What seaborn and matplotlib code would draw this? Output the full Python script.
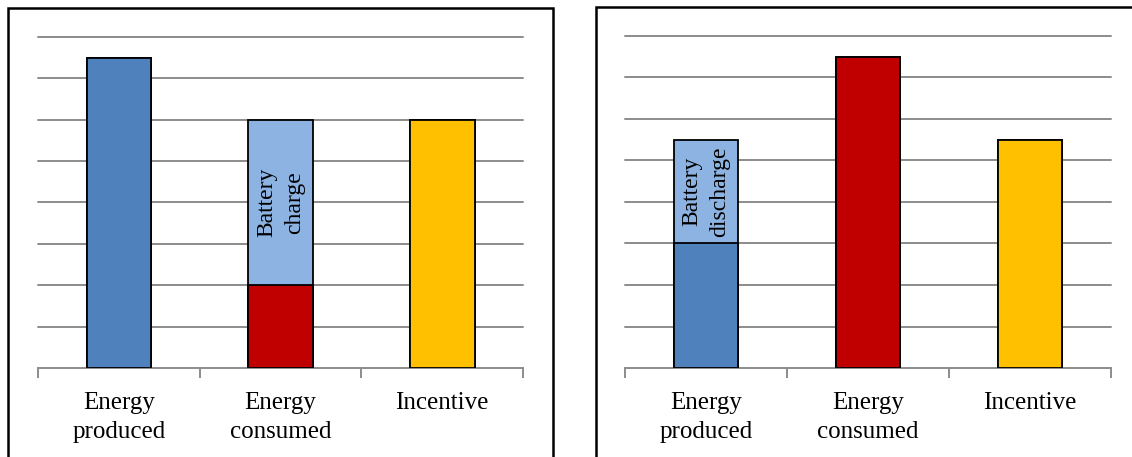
import matplotlib
matplotlib.use("Agg")
import matplotlib.pyplot as plt
from matplotlib.patches import Rectangle
import seaborn as sns
import numpy as np

sns.set_theme(style="white")
plt.rcParams["font.family"] = ["Liberation Serif", "DejaVu Serif"]
plt.rcParams["text.color"] = "black"
plt.rcParams["xtick.color"] = "black"

categories = ["Energy\nproduced", "Energy\nconsumed", "Incentive"]

# Left scenario: surplus energy goes to battery charging
left_base = [7.5, 2.0, 6.0]
left_battery = [0.0, 4.0, 0.0]
left_battery_label = "Battery\ncharge"

# Right scenario: battery discharge covers the deficit
right_base = [3.0, 7.5, 5.5]
right_battery = [2.5, 0.0, 0.0]
right_battery_label = "Battery\ndischarge"

base_colors = ["#4F81BD", "#C00000", "#FFC000"]
battery_color = "#8DB3E2"
grid_color = "#8C8C8C"

W, H = 1132, 457
fig = plt.figure(figsize=(W / 100, H / 100), dpi=100)


def px_axes(x0, x1, ytop, ybot):
    return fig.add_axes([x0 / W, (H - ybot) / H, (x1 - x0) / W, (ybot - ytop) / H])


def draw_panel(ax, base, battery, label):
    base = np.array(base)
    battery = np.array(battery)
    totals = base + battery
    top_colors = [battery_color if b > 0 else c for b, c in zip(battery, base_colors)]
    for y in range(1, 9):
        ax.axhline(y, color=grid_color, lw=1.4, zorder=0, clip_on=False)
    sns.barplot(x=categories, y=totals, hue=categories, palette=top_colors,
                legend=False, width=0.4, edgecolor="black", linewidth=1.3,
                saturation=1, ax=ax, zorder=2)
    sns.barplot(x=categories, y=base, hue=categories, palette=base_colors,
                legend=False, width=0.4, edgecolor="black", linewidth=1.3,
                saturation=1, ax=ax, zorder=3)
    for i, b in enumerate(battery):
        if b > 0:
            ax.text(i, base[i] + b / 2, label, rotation=90, ha="center",
                    va="center", fontsize=17, linespacing=1.45, color="black",
                    zorder=4)
    ax.set_xlim(-0.5, 2.5)
    ax.set_ylim(0, 8)
    ax.set_yticks([])
    ax.set_ylabel("")
    ax.set_xticks([0, 1, 2])
    ax.set_xticklabels(categories, fontsize=18, linespacing=1.45, color="black")
    ax.set_xticks([-0.5, 0.5, 1.5, 2.5], minor=True)
    ax.tick_params(axis="x", which="major", length=0, pad=17)
    ax.tick_params(axis="x", which="minor", length=7, width=1.4, color=grid_color,
                   direction="out", bottom=True)
    for s in ["top", "left", "right"]:
        ax.spines[s].set_visible(False)
    ax.spines["bottom"].set_color(grid_color)
    ax.spines["bottom"].set_linewidth(1.4)
    ax.patch.set_alpha(0)


ax1 = px_axes(38, 523, 37, 368)
draw_panel(ax1, left_base, left_battery, left_battery_label)
ax2 = px_axes(625, 1111, 36, 368)
draw_panel(ax2, right_base, right_battery, right_battery_label)

# Frames around each chart
fig.patches.append(Rectangle((8 / W, -0.1), (553 - 8) / W, (H - 8) / H + 0.1,
                             transform=fig.transFigure, fill=False,
                             edgecolor="black", lw=1.8))
fig.patches.append(Rectangle((596 / W, -0.1), 0.5, (H - 7) / H + 0.1,
                             transform=fig.transFigure, fill=False,
                             edgecolor="black", lw=1.8))

fig.savefig("out.png", dpi=100, facecolor="white")
